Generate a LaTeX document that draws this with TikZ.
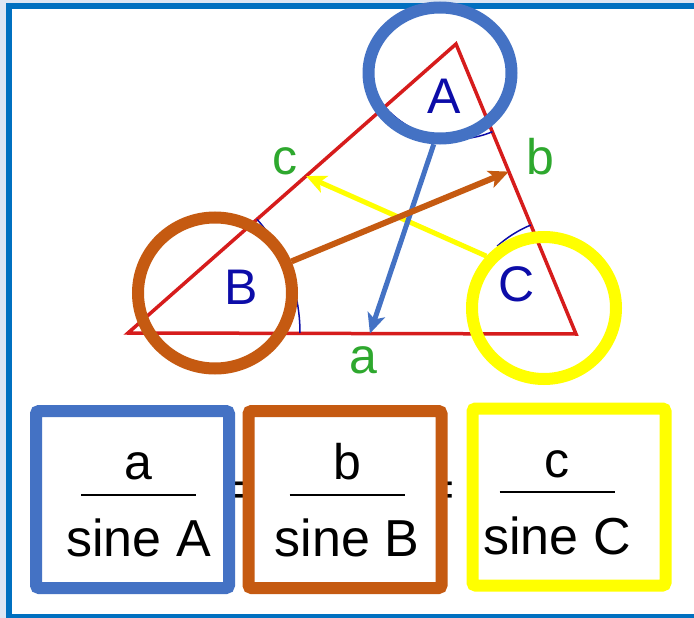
\documentclass[tikz,border=0pt]{standalone}
\usepackage{fontspec}
\setmainfont{Liberation Sans}
\usetikzlibrary{shapes.geometric, arrows.meta, positioning, backgrounds, calc}
\definecolor{frameblue}{RGB}{0,112,192}
\definecolor{pagebg}{RGB}{221,230,243}
\definecolor{tricol}{RGB}{214,28,28}
\definecolor{sidegreen}{RGB}{46,168,46}
\definecolor{anglecol}{RGB}{12,12,168}
\definecolor{markA}{RGB}{68,114,196}
\definecolor{markB}{RGB}{197,90,17}
\definecolor{markC}{RGB}{255,255,0}
\newcommand{\bigfont}{\fontsize{50}{60}\selectfont}
\newcommand{\ratiotext}[3]{\hspace*{#3}\rule{0pt}{38pt}#1\\[-44pt]%
  \hspace*{#3}\rule{115pt}{2pt}\\[1pt]\hspace*{#3}{\fontsize{52}{60}\selectfont #2}}
\tikzset{
  ringmark/.style={ellipse, draw=#1, line width=12pt, inner sep=0pt},
  ratiobox/.style={rectangle, rounded corners=3pt, draw=#1, fill=white,
                   line width=12pt, minimum width=193pt, minimum height=177pt,
                   font=\bigfont, align=center, inner sep=0pt},
  pointer/.style={draw=#1, line width=5pt,
                  -{Stealth[length=20pt, width=18pt, inset=5pt]}},
  vertexlbl/.style={text=anglecol, font=\bigfont, inner sep=0pt},
  sidelbl/.style={text=sidegreen, font=\bigfont, inner sep=0pt},
  anglearc/.style={draw=anglecol, line width=1.5pt},
}

\begin{document}
\begin{tikzpicture}[x=1pt, y=-1pt]
  \useasboundingbox (0,0) rectangle (694,618);
  \begin{scope}[on background layer]
    \fill[pagebg] (0,0) rectangle (694,618);
    \draw[frameblue, line width=6pt, fill=white] (9,6) rectangle (720,617);
  \end{scope}

  % triangle
  \coordinate (vA) at (456,44);
  \coordinate (vB) at (128,333);
  \coordinate (vC) at (576,334);
  \draw[tricol, line width=3.5pt] (vA) -- (vB) -- (vC) -- cycle;
  \draw[anglearc] (vA) ++(67.5:95) arc[start angle=67.5, end angle=138.6, radius=95];
  \draw[anglearc] (vB) ++(-41.4:172) arc[start angle=-41.4, end angle=0, radius=172];
  \draw[anglearc] (vC) ++(228:118) arc[start angle=228, end angle=247.5, radius=118];

  \node[vertexlbl] (lblA) at (444,96)  {A};
  \node[vertexlbl] (lblB) at (241,287) {B};
  \node[vertexlbl] (lblC) at (517,284) {C};
  \node[sidelbl]   (lbla) at (363,360) {a};
  \node[sidelbl]   (lblb) at (540,157) {b};
  \node[sidelbl]   (lblc) at (285,161) {c};

  \node[ringmark=markA, minimum width=143pt, minimum height=131pt] (ringA) at (440,73)  {};
  \node[ringmark=markB, minimum width=154pt, minimum height=151pt] (ringB) at (215,293) {};
  \node[ringmark=markC, minimum width=144pt, minimum height=142pt] (ringC) at (544,308) {};

  \coordinate (sideA) at ($(vB)!0.54!(vC)$);
  \coordinate (sideB) at ($(vA)!0.44!(vC)$);
  \coordinate (sideC) at ($(vA)!0.457!(vB)$);

  \draw[pointer=markC] (ringC.138) -- (sideC);
  \draw[pointer=markA] (ringA.265) -- (sideA);
  \draw[pointer=markB, line width=6pt] (ringB) -- (sideB);

  % ratios
  \node[ratiobox=markA] (ratioA) at (132.5,499.5) {\ratiotext{a}{sine A}{12pt}};
  \node[ratiobox=markB, right=7.5pt of ratioA] (ratioB) {\ratiotext{b}{sine B}{4pt}};
  \node[ratiobox=markC, right=19pt of ratioB, yshift=2.5pt] (ratioC) {\ratiotext{c}{sine C}{-24pt}};
  \begin{scope}[on background layer]
    \node[font=\bigfont] (eqAB) at ($(ratioA.east)!0.5!(ratioB.west)+(0,-5)$) {=};
    \node[font=\bigfont] (eqBC) at ($(ratioB.east)+(-7,-5)$) {=};
  \end{scope}
\end{tikzpicture}
\end{document}
